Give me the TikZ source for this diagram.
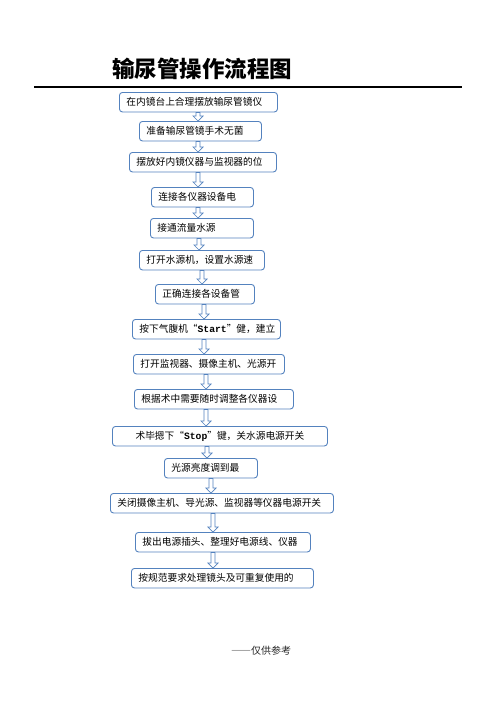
\documentclass[tikz,border=0pt]{standalone}
\usepackage{fontspec}
\usetikzlibrary{calc}
\newfontfamily\cjk{Noto Sans CJK SC}
\newfontfamily\cjkwide[RawFeature=+fwid]{Noto Sans CJK SC}
\newfontfamily\mono{Liberation Mono}
\definecolor{boxblue}{RGB}{84,130,190}
\newcommand{\flowdown}[3]{\draw[flowarrow] let \p1=(#2.south), \p2=(#3.north) in (#1pt-2pt,\y1) -- (#1pt-2pt,\y2+5pt) -- (#1pt-5pt,\y2+5pt) -- (#1pt,\y2) -- (#1pt+5pt,\y2+5pt) -- (#1pt+2pt,\y2+5pt) -- (#1pt+2pt,\y1) -- cycle;}
\begin{document}
\begin{tikzpicture}[x=1pt, y=-1pt,
    box/.style={draw=boxblue, line width=0.9pt, rounded corners=3pt, fill=white, anchor=north west, minimum height=19.5pt, inner xsep=7pt, inner ysep=0pt, align=left, font=\cjk\fontsize{9.7}{11}\selectfont},
    flowarrow/.style={draw=boxblue, fill=white, line width=0.7pt}]
    \useasboundingbox (0,0) rectangle (496,702);
    \node[anchor=base west, inner sep=0pt, font=\cjk\bfseries\fontsize{22.5}{26}\selectfont] (title) at (112,77) {输尿管操作流程图};
    \draw[line width=1.2pt] (34,87) -- (462,87);
    \node[box, text width=144pt] (s1) at (119,92) {在内镜台上合理摆放输尿管镜仪};
    \node[box, text width=108pt] (s2) at (139,121) {准备输尿管镜手术无菌};
    \node[box, text width=133pt] (s3) at (129,152) {摆放好内镜仪器与监视器的位};
    \node[box, text width=88pt] (s4) at (151,187) {连接各仪器设备电};
    \node[box, text width=89pt] (s5) at (150,218) {接通流量水源};
    \node[box, text width=111pt] (s6) at (139,250) {打开水源机，设置水源速};
    \node[box, text width=85pt] (s7) at (155,284) {正确连接各设备管};
    \node[box, text width=134pt] (s8) at (132,319) {按下气腹机“{\mono\bfseries Start}”健，建立};
    \node[box, text width=137pt] (s9) at (133,354) {打开监视器、摄像主机、光源开};
    \node[box, text width=145pt] (s10) at (134,389) {根据术中需要随时调整各仪器设};
    \node[box, text width=201pt, align=center] (s11) at (112,426) {术毕摁下“{\mono\bfseries Stop}”键，关水源电源开关};
    \node[box, text width=79pt] (s12) at (164,458) {光源亮度调到最};
    \node[box, text width=209pt] (s13) at (110,493) {关闭摄像主机、导光源、监视器等仪器电源开关};
    \node[box, text width=161pt] (s14) at (135,532) {拔出电源插头、整理好电源线、仪器};
    \node[box, text width=168pt] (s15) at (131,568) {按规范要求处理镜头及可重复使用的};
    \flowdown{198}{s1}{s2}
    \flowdown{198}{s2}{s3}
    \flowdown{198}{s3}{s4}
    \flowdown{198}{s4}{s5}
    \flowdown{199}{s5}{s6}
    \flowdown{202}{s6}{s7}
    \flowdown{204}{s7}{s8}
    \flowdown{204}{s8}{s9}
    \flowdown{206}{s9}{s10}
    \flowdown{206}{s10}{s11}
    \flowdown{207}{s11}{s12}
    \flowdown{211}{s12}{s13}
    \flowdown{213}{s13}{s14}
    \flowdown{213}{s14}{s15}
    \node[anchor=west, inner sep=0pt, text=black!85, font=\cjk\fontsize{10}{12}\selectfont] (note) at (231,651) {{\cjkwide ——}仅供参考};
\end{tikzpicture}
\end{document}
